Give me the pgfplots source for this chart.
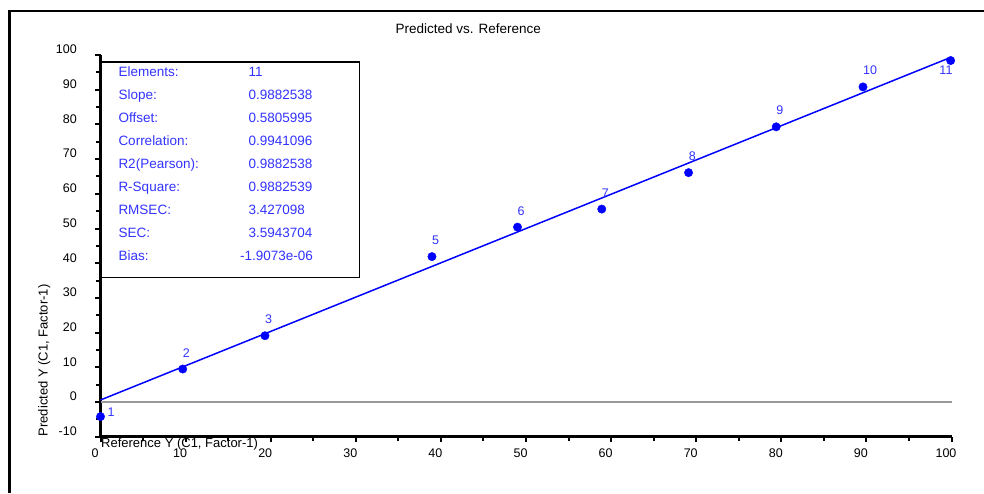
\documentclass[border=0pt]{standalone}
\usepackage{pgfplots}
\pgfplotsset{compat=1.18}
\usepackage{fontspec}
\setmainfont{Liberation Sans}
\definecolor{ptblue}{HTML}{0000FF}
\definecolor{lblblue}{HTML}{3333FF}
\definecolor{zerogray}{HTML}{999999}

\newcommand{\txt}{\fontsize{13}{15}\selectfont}
\newcommand{\boxtxt}{\fontsize{13.5}{16}\selectfont}

\begin{document}
\begin{tikzpicture}
\useasboundingbox (0,0) rectangle (984pt,-493pt);
% outer frame (only top and left edges show)
\draw[line width=2.5pt] (9.3pt,-493pt) -- (9.3pt,-11pt) -- (984pt,-11pt);
\node[font=\boxtxt, inner sep=0pt] at (468.3pt,-28.3pt) {Predicted vs. Reference};

\begin{axis}[
  at={(100.5pt,-436.7pt)}, anchor=south west,
  scale only axis, width=851pt, height=381.7pt,
  xmin=0, xmax=100, ymin=-10, ymax=100,
  axis x line*=bottom, axis y line*=left,
  axis line style={line width=2.5pt, black},
  xtick={0,10,...,100}, ytick={-10,0,...,100},
  minor x tick num=1, minor y tick num=1,
  tick align=outside, major tick length=5.5pt, minor tick length=4.5pt,
  tick style={black, line width=2pt},
  /pgf/number format/assume math mode=true,
  ticklabel style={font=\fontsize{12.5}{14}\selectfont, inner sep=0pt},
  xticklabel style={anchor=north, xshift=-5.5pt, yshift=-6pt},
  yticklabel style={anchor=east, xshift=-18pt, yshift=5.5pt},
  clip=false,
]
% zero line
\addplot[zerogray, line width=2pt] coordinates {(0,0) (100,0)};
% regression line: offset 0.5805995, slope 0.9882538
\addplot[ptblue, line width=1.5pt] coordinates {(0,0.5806) (100,99.4060)};
% samples
\addplot[only marks, mark=*, mark size=4.2pt, mark options={fill=ptblue, draw=ptblue},
  point meta=explicit symbolic, nodes near coords,
  every node near coord/.style={anchor=west, inner sep=0pt, yshift=16.3pt,
    text=lblblue, font=\fontsize{12.5}{14}\selectfont}]
  coordinates {
    (9.66,9.5)[2]
    (19.33,19.1)[3]
    (38.95,41.9)[5]
    (49.0,50.4)[6]
    (58.9,55.6)[7]
    (69.1,66.1)[8]
    (79.4,79.3)[9]
    (89.6,90.8)[10]
  };
\addplot[only marks, mark=*, mark size=4.2pt, mark options={fill=ptblue, draw=ptblue},
  point meta=explicit symbolic, nodes near coords,
  every node near coord/.style={anchor=west, inner sep=0pt, xshift=7pt, yshift=4.7pt,
    text=lblblue, font=\fontsize{12.5}{14}\selectfont}]
  coordinates {(0,-4.2)[1]};
\addplot[only marks, mark=*, mark size=4.2pt, mark options={fill=ptblue, draw=ptblue},
  point meta=explicit symbolic, nodes near coords,
  every node near coord/.style={anchor=center, inner sep=0pt, xshift=-4.7pt, yshift=-10pt,
    text=lblblue, font=\fontsize{12.5}{14}\selectfont}]
  coordinates {(99.9,98.4)[11]};
\end{axis}

% axis titles
\node[rotate=90, anchor=west, inner sep=0pt, font=\txt] at (44.3pt,-436.5pt) {Predicted Y (C1, Factor-1)};
\node[anchor=west, inner sep=0pt, font=\txt] at (101pt,-444.3pt) {Reference Y (C1, Factor-1)};

% statistics box
\draw[line width=1.5pt, fill=white] (101.7pt,-62pt) rectangle (359.3pt,-277.7pt);
\begin{scope}[every node/.style={anchor=base west, inner sep=0pt, text=lblblue, font=\boxtxt}]
\node at (118.3pt,-76.9pt) {Elements:};      \node at (248.3pt,-76.9pt) {11};
\node at (118.3pt,-99.8pt) {Slope:};         \node at (248.3pt,-99.8pt) {0.9882538};
\node at (118.3pt,-122.7pt) {Offset:};       \node at (248.3pt,-122.7pt) {0.5805995};
\node at (118.3pt,-145.6pt) {Correlation:};  \node at (248.3pt,-145.6pt) {0.9941096};
\node at (118.3pt,-168.5pt) {R2(Pearson):};  \node at (248.3pt,-168.5pt) {0.9882538};
\node at (118.3pt,-191.4pt) {R-Square:};     \node at (248.3pt,-191.4pt) {0.9882539};
\node at (118.3pt,-214.3pt) {RMSEC:};        \node at (248.3pt,-214.3pt) {3.427098};
\node at (118.3pt,-237.2pt) {SEC:};          \node at (248.3pt,-237.2pt) {3.5943704};
\node at (118.3pt,-260.1pt) {Bias:};         \node at (240pt,-260.1pt) {-1.9073e-06};
\end{scope}
\end{tikzpicture}
\end{document}
